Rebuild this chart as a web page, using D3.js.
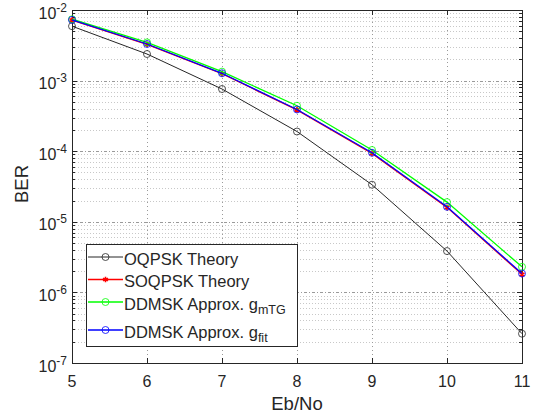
<!DOCTYPE html>
<html>
<head>
<meta charset="utf-8">
<script src="https://cdn.jsdelivr.net/npm/d3@7"></script>
<style>
body { margin: 0; background: #fff; }
text { font-family: "Liberation Sans", Arial, Helvetica, sans-serif; fill: #262626; }
</style>
</head>
<body>
<div id="viz"></div>
<script>
var width = 535;
var height = 415;
var margin = {left: 72, right: 13, top: 10, bottom: 52};

// data
var ebno = [5, 6, 7, 8, 9, 10, 11];
var oqpsk = [5.9e-3, 2.38e-3, 7.6e-4, 1.9e-4, 3.35e-5, 3.85e-6, 2.6e-7];
var soqpsk = [7.2e-3, 3.27e-3, 1.25e-3, 3.85e-4, 9.3e-5, 1.6e-5, 1.8e-6];
var ddmskMTG = [7.4e-3, 3.48e-3, 1.34e-3, 4.4e-4, 1.04e-4, 1.9e-5, 2.3e-6];
var ddmskFit = [7.25e-3, 3.3e-3, 1.27e-3, 3.9e-4, 9.5e-5, 1.63e-5, 1.85e-6];
var xTicks = [5, 6, 7, 8, 9, 10, 11];
var yExponents = [-2, -3, -4, -5, -6, -7];

var series = [
	{name: "OQPSK Theory", sub: null, values: oqpsk, color: "#262626", marker: "circle"},
	{name: "SOQPSK Theory", sub: null, values: soqpsk, color: "#ff0000", marker: "star"},
	{name: "DDMSK Approx. g", sub: "mTG", values: ddmskMTG, color: "#00ff00", marker: "circle"},
	{name: "DDMSK Approx. g", sub: "fit", values: ddmskFit, color: "#0000ff", marker: "circle"}
];

var x = d3.scaleLinear()
	.domain([5, 11])
	.range([margin.left, width - margin.right]);

var y = d3.scaleLog()
	.domain([1e-7, 1e-2])
	.range([height - margin.bottom, margin.top]);

var svg = d3.select("#viz").append("svg")
	.attr("width", width)
	.attr("height", height);

svg.append("rect")
	.attr("width", width)
	.attr("height", height)
	.style("fill", "#ffffff");

// minor values per decade
var minorVals = [];
yExponents.slice(1).forEach(function(e) {
	for (var m = 2; m <= 9; m++) minorVals.push(m * Math.pow(10, e));
});

var grid = svg.append("g");

grid.selectAll(".yminor")
	.data(minorVals)
	.enter().append("line")
	.attr("x1", x(5)).attr("x2", x(11))
	.attr("y1", function(d) { return Math.round(y(d)) + 0.5; })
	.attr("y2", function(d) { return Math.round(y(d)) + 0.5; })
	.style("stroke", "#c8c8c8")
	.style("stroke-dasharray", "1,2");

grid.selectAll(".ymajor")
	.data(yExponents)
	.enter().append("line")
	.attr("x1", x(5)).attr("x2", x(11))
	.attr("y1", function(d) { return Math.round(y(Math.pow(10, d))) + 0.5; })
	.attr("y2", function(d) { return Math.round(y(Math.pow(10, d))) + 0.5; })
	.style("stroke", "#9a9a9a")
	.style("stroke-dasharray", "3,2,1,2");

grid.selectAll(".xmajor")
	.data(xTicks)
	.enter().append("line")
	.attr("x1", function(d) { return Math.round(x(d)) + 0.5; })
	.attr("x2", function(d) { return Math.round(x(d)) + 0.5; })
	.attr("y1", y(1e-2)).attr("y2", y(1e-7))
	.style("stroke", "#9a9a9a")
	.style("stroke-dasharray", "1,3");

// axis box and ticks
var axes = svg.append("g").style("stroke", "#262626").style("stroke-width", 1);

axes.append("rect")
	.attr("x", margin.left + 0.5)
	.attr("y", margin.top + 0.5)
	.attr("width", x(11) - x(5))
	.attr("height", y(1e-7) - y(1e-2))
	.style("fill", "none");

xTicks.forEach(function(t) {
	var px = Math.round(x(t)) + 0.5;
	axes.append("line").attr("x1", px).attr("x2", px).attr("y1", y(1e-7)).attr("y2", y(1e-7) - 5);
	axes.append("line").attr("x1", px).attr("x2", px).attr("y1", y(1e-2)).attr("y2", y(1e-2) + 5);
});

yExponents.forEach(function(e) {
	var py = Math.round(y(Math.pow(10, e))) + 0.5;
	axes.append("line").attr("x1", x(5)).attr("x2", x(5) + 5).attr("y1", py).attr("y2", py);
	axes.append("line").attr("x1", x(11)).attr("x2", x(11) - 5).attr("y1", py).attr("y2", py);
});

minorVals.forEach(function(v) {
	var py = Math.round(y(v)) + 0.5;
	axes.append("line").attr("x1", x(5)).attr("x2", x(5) + 3).attr("y1", py).attr("y2", py);
	axes.append("line").attr("x1", x(11)).attr("x2", x(11) - 3).attr("y1", py).attr("y2", py);
});

// tick labels
svg.selectAll(".xlabel")
	.data(xTicks)
	.enter().append("text")
	.attr("x", function(d) { return x(d); })
	.attr("y", y(1e-7) + 24)
	.attr("text-anchor", "middle")
	.style("font-size", "16px")
	.text(function(d) { return d; });

var yl = svg.selectAll(".ylabel")
	.data(yExponents)
	.enter().append("text")
	.attr("x", x(5) - 5)
	.attr("y", function(d) { return y(Math.pow(10, d)) + 8.5; })
	.attr("text-anchor", "end")
	.style("font-size", "16px");

yl.append("tspan").text("10");
yl.append("tspan")
	.attr("dy", -7)
	.style("font-size", "12px")
	.text(function(d) { return "-" + Math.abs(d); });

svg.append("text")
	.attr("x", (x(5) + x(11)) / 2)
	.attr("y", 410)
	.attr("text-anchor", "middle")
	.style("font-size", "18.5px")
	.text("Eb/No");

svg.append("text")
	.attr("transform", "translate(28,184) rotate(-90)")
	.attr("text-anchor", "middle")
	.style("font-size", "18.5px")
	.text("BER");

// lines and markers
var line = d3.line()
	.x(function(d, i) { return x(ebno[i]); })
	.y(function(d) { return y(d); });

var drawMarker = function(g, s, cx, cy) {
	if (s.marker == "circle") {
		g.append("circle")
			.attr("cx", cx).attr("cy", cy).attr("r", 3.5)
			.style("fill", "none")
			.style("stroke", s.color)
			.style("stroke-width", 0.8);
	} else {
		g.append("path")
			.attr("transform", "translate(" + cx + "," + cy + ")")
			.attr("d", d3.symbol().type(d3.symbolAsterisk).size(22)())
			.style("fill", "none")
			.style("stroke", s.color)
			.style("stroke-width", 1.6);
	}
};

var plot = svg.append("g");

series.forEach(function(s) {
	plot.append("path")
		.datum(s.values)
		.attr("d", line)
		.style("fill", "none")
		.style("stroke", s.color)
		.style("stroke-width", s.color == "#262626" ? 1 : 1.3);
	s.values.forEach(function(v, i) {
		drawMarker(plot, s, x(ebno[i]), y(v));
	});
});

// legend
var legend = svg.append("g");
legend.append("rect")
	.attr("x", 86.5)
	.attr("y", 244.5)
	.attr("width", 211)
	.attr("height", 102)
	.style("fill", "#ffffff")
	.style("stroke", "#262626")
	.style("stroke-width", 1);

var rowY = [257, 279.5, 302, 330];

series.forEach(function(s, i) {
	var ly = rowY[i];
	legend.append("line")
		.attr("x1", 88).attr("x2", 123)
		.attr("y1", ly).attr("y2", ly)
		.style("stroke", s.color)
		.style("stroke-width", s.color == "#262626" ? 1 : 1.3);
	drawMarker(legend, s, 105.5, ly);
	var t = legend.append("text")
		.attr("x", 124)
		.attr("y", ly + 7.5)
		.style("font-size", "16.5px")
		.text(s.name);
	if (s.sub) {
		t.append("tspan")
			.attr("dy", 4.5)
			.style("font-size", "12.5px")
			.text(s.sub);
	}
});
</script>
</body>
</html>
